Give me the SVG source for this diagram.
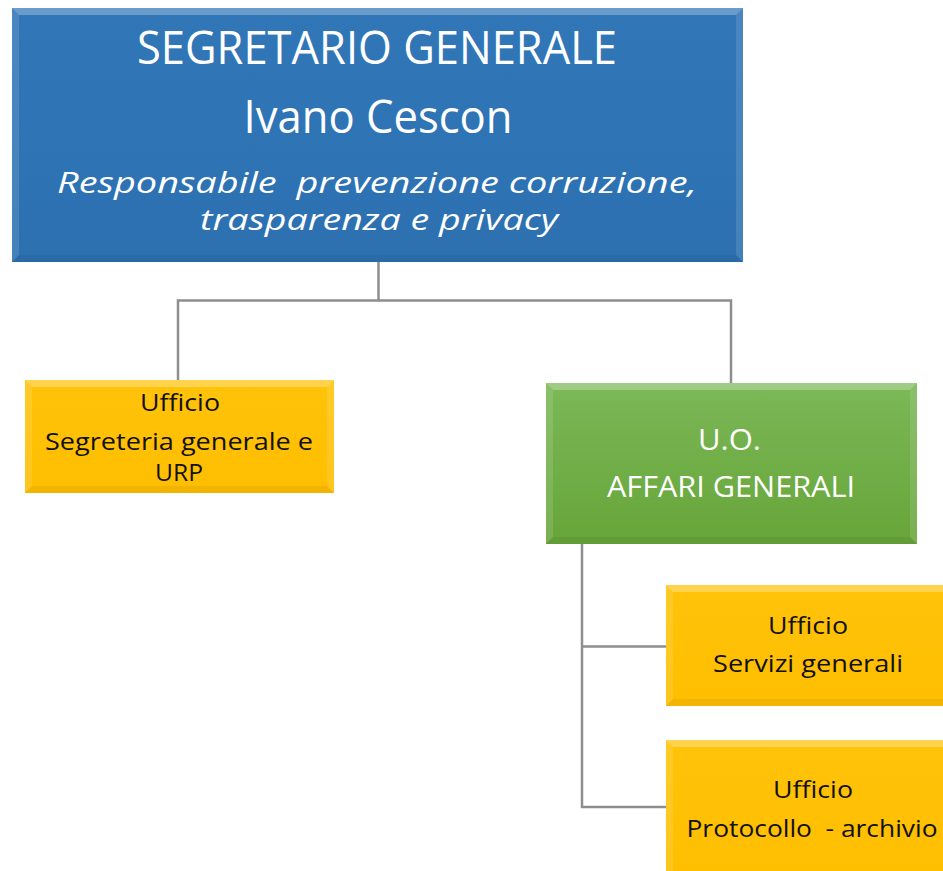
<svg xmlns="http://www.w3.org/2000/svg" width="943" height="871" viewBox="0 0 943 871">
<defs>
<linearGradient id="gBlue" x1="0" y1="0" x2="0" y2="1">
<stop offset="0" stop-color="#3177B8"/><stop offset="1" stop-color="#2C70B0"/>
</linearGradient>
<linearGradient id="gGreen" x1="0" y1="0" x2="0" y2="1">
<stop offset="0" stop-color="#7BB857"/><stop offset="1" stop-color="#67A53A"/>
</linearGradient>
<linearGradient id="gYellow" x1="0" y1="0" x2="0" y2="1">
<stop offset="0" stop-color="#FFC30A"/><stop offset="1" stop-color="#FFBE00"/>
</linearGradient>
<style>
.conn{fill:none;stroke:#8E8E8E;stroke-width:2.5}
.w{fill:#FFFFFF;font-family:"Open Sans","DejaVu Sans",sans-serif;text-anchor:middle}
.k{fill:#111111;font-family:"Open Sans","DejaVu Sans",sans-serif;text-anchor:middle;font-size:24px}
.hiT{fill:#FFFFFF;opacity:0.28}
.hiS{fill:#FFFFFF;opacity:0.12}
.lo{fill:#000000;opacity:0.05}
</style>
</defs>

<g id="connectors">
<polyline class="conn" points="378.5,262 378.5,300.5 178,300.5 178,380"/>
<polyline class="conn" points="378.5,300.5 731,300.5 731,383"/>
<polyline class="conn" points="582,544 582,807 667,807"/>
<line class="conn" x1="582" y1="646.5" x2="667" y2="646.5"/>
</g>

<g id="segretario">
<rect x="12" y="8" width="731" height="254" fill="url(#gBlue)"/>
<polygon class="hiT" points="12,8 743,8 736,15 19,15"/>
<polygon class="hiS" points="12,8 19,15 19,255 12,262"/>
<polygon class="hiS" points="743,8 736,15 736,255 743,262"/>
<polygon class="lo" points="12,262 19,255 736,255 743,262"/>
<text class="w" x="377" y="64" font-size="45" textLength="480" lengthAdjust="spacingAndGlyphs">SEGRETARIO GENERALE</text>
<text class="w" x="378" y="133" font-size="45" textLength="269" lengthAdjust="spacingAndGlyphs">Ivano Cescon</text>
<text class="w" x="377" y="193" font-size="29" font-style="italic" xml:space="preserve" textLength="640" lengthAdjust="spacingAndGlyphs">Responsabile  prevenzione corruzione,</text>
<text class="w" x="379" y="230" font-size="29" font-style="italic" textLength="358" lengthAdjust="spacingAndGlyphs">trasparenza e privacy</text>
</g>

<g id="ufficio-segreteria">
<rect x="25" y="380" width="309" height="113" fill="url(#gYellow)"/>
<polygon class="hiT" points="25,380 334,380 327,387 32,387"/>
<polygon class="hiS" points="25,380 32,387 32,486 25,493"/>
<polygon class="hiS" points="334,380 327,387 327,486 334,493"/>
<polygon class="lo" points="25,493 32,486 327,486 334,493"/>
<text class="k" x="180" y="411" textLength="80" lengthAdjust="spacingAndGlyphs">Ufficio</text>
<text class="k" x="179" y="450" font-size="22" textLength="268" lengthAdjust="spacingAndGlyphs">Segreteria generale e</text>
<text class="k" x="179" y="481" font-size="22" textLength="48" lengthAdjust="spacingAndGlyphs">URP</text>
</g>

<g id="uo-affari-generali">
<rect x="546" y="383" width="371" height="161" fill="url(#gGreen)"/>
<polygon class="hiT" points="546,383 917,383 910,390 553,390"/>
<polygon class="hiS" points="546,383 553,390 553,537 546,544"/>
<polygon class="hiS" points="917,383 910,390 910,537 917,544"/>
<polygon class="lo" points="546,544 553,537 910,537 917,544"/>
<text class="w" x="729.5" y="450" font-size="30" textLength="63" lengthAdjust="spacingAndGlyphs">U.O.</text>
<text class="w" x="731" y="497" font-size="30" textLength="248" lengthAdjust="spacingAndGlyphs">AFFARI GENERALI</text>
</g>

<g id="ufficio-servizi">
<rect x="666" y="585" width="290" height="121" fill="url(#gYellow)"/>
<polygon class="hiT" points="666,585 956,585 949,592 673,592"/>
<polygon class="hiS" points="666,585 673,592 673,699 666,706"/>
<polygon class="lo" points="666,706 673,699 949,699 956,706"/>
<text class="k" x="808" y="634" textLength="80" lengthAdjust="spacingAndGlyphs">Ufficio</text>
<text class="k" x="808" y="672" textLength="190" lengthAdjust="spacingAndGlyphs">Servizi generali</text>
</g>

<g id="ufficio-protocollo">
<rect x="666" y="740" width="290" height="140" fill="url(#gYellow)"/>
<polygon class="hiT" points="666,740 956,740 949,747 673,747"/>
<polygon class="hiS" points="666,740 673,747 673,880 666,880"/>
<text class="k" x="813" y="798" textLength="80" lengthAdjust="spacingAndGlyphs">Ufficio</text>
<text class="k" x="812" y="837" xml:space="preserve" textLength="251" lengthAdjust="spacingAndGlyphs">Protocollo  - archivio</text>
</g>
</svg>
